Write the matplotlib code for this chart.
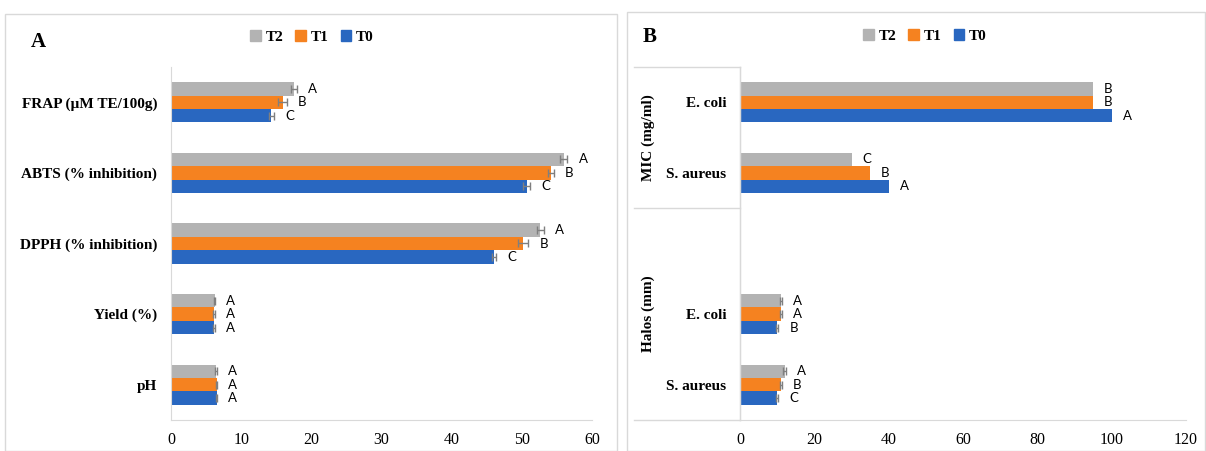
import numpy as np
import matplotlib.pyplot as plt
from matplotlib.patches import Rectangle, Patch
from matplotlib.lines import Line2D

# panel A data
cats_a = ['FRAP (µM TE/100g)', 'ABTS (% inhibition)', 'DPPH (% inhibition)', 'Yield (%)', 'pH']
t0_a = [14.3, 50.7, 46.0, 6.1, 6.5]
t1_a = [15.9, 54.2, 50.2, 6.1, 6.5]
t2_a = [17.5, 56.0, 52.6, 6.2, 6.4]
e0_a = [0.4, 0.5, 0.3, 0.1, 0.1]
e1_a = [0.6, 0.4, 0.7, 0.1, 0.1]
e2_a = [0.4, 0.5, 0.5, 0.1, 0.1]
l0_a = ['C', 'C', 'C', 'A', 'A']
l1_a = ['B', 'B', 'B', 'A', 'A']
l2_a = ['A', 'A', 'A', 'A', 'A']

# panel B data
cats_b = ['E. coli', 'S. aureus', 'E. coli', 'S. aureus']
groups_b = ['MIC (mg/ml)', 'Halos (mm)']
t0_b = [100, 40, 10, 10]
t1_b = [95, 35, 11, 11]
t2_b = [95, 30, 11, 12]
e0_b = [0, 0, 0.3, 0.3]
e1_b = [0, 0, 0.3, 0.3]
e2_b = [0, 0, 0.3, 0.3]
l0_b = ['A', 'A', 'B', 'C']
l1_b = ['B', 'B', 'A', 'B']
l2_b = ['B', 'C', 'A', 'A']

series = ['T2', 'T1', 'T0']
colors = {'T2': '#b3b3b3', 'T1': '#f58220', 'T0': '#2967c0'}

serif = 'Liberation Serif'
sans = 'Lato'

fig = plt.figure(figsize=(12.06, 4.51), dpi=100)

# panel frames
fig.patches.append(Rectangle((5/1206, 0), 612/1206, 1-14/451, transform=fig.transFigure,
                             fill=False, ec='#d9d9d9', lw=1))
fig.patches.append(Rectangle((627/1206, 0), 578/1206, 1-12/451, transform=fig.transFigure,
                             fill=False, ec='#d9d9d9', lw=1))

bh = 0.19


def draw(ax, pos, vals, errs, labs, xmax):
    for k, s in enumerate(series):
        y = np.array(pos) + (1 - k) * bh
        v = vals[s]
        e = np.array(errs[s])
        ax.barh(y, v, height=bh, color=colors[s], zorder=2)
        has = e > 0
        if has.any():
            ax.errorbar(np.array(v)[has], y[has], xerr=e[has], fmt='none',
                        ecolor='#7f7f7f', elinewidth=1, capsize=3, zorder=3)
        for yy, vv, ee, tt in zip(y, v, e, labs[s]):
            ax.annotate(tt, (vv + ee, yy), xytext=(8, 0), textcoords='offset points',
                        va='center', ha='left', fontsize=9.5, family=sans)
    ax.set_xlim(0, xmax)
    for sp in ['top', 'right']:
        ax.spines[sp].set_visible(False)
    for sp in ['left', 'bottom']:
        ax.spines[sp].set_color('#d9d9d9')
    ax.tick_params(length=0, labelsize=11.5)
    ax.tick_params(axis='x', pad=9)
    for t in ax.get_xticklabels():
        t.set_family(serif)


# panel A
ax1 = fig.add_axes([171/1206, 1-420/451, 421/1206, 353/451])
pos_a = [4, 3, 2, 1, 0]
draw(ax1, pos_a, {'T2': t2_a, 'T1': t1_a, 'T0': t0_a},
     {'T2': e2_a, 'T1': e1_a, 'T0': e0_a}, {'T2': l2_a, 'T1': l1_a, 'T0': l0_a}, 60)
ax1.set_ylim(-0.5, 4.5)
ax1.set_yticks(pos_a)
ax1.set_yticklabels(cats_a, family=serif, fontweight='bold', fontsize=11)
ax1.tick_params(axis='y', pad=10)
ax1.set_xticks(np.arange(0, 61, 10))

# panel B
ax2 = fig.add_axes([740/1206, 1-420/451, 446/1206, 353/451])
pos_b = [4, 3, 1, 0]
draw(ax2, pos_b, {'T2': t2_b, 'T1': t1_b, 'T0': t0_b},
     {'T2': e2_b, 'T1': e1_b, 'T0': e0_b}, {'T2': l2_b, 'T1': l1_b, 'T0': l0_b}, 120)
ax2.set_ylim(-0.5, 4.5)
ax2.set_yticks(pos_b)
ax2.set_yticklabels(cats_b, family=serif, fontweight='bold', fontsize=11)
ax2.tick_params(axis='y', pad=10)
ax2.set_xticks(np.arange(0, 121, 20))

# multi-level category box lines
tr = ax2.get_yaxis_transform()
x0 = -(740 - 634) / 446
for yy in [4.5, 2.5, -0.5]:
    ax2.add_line(Line2D([x0, 0], [yy, yy], transform=tr, color='#d9d9d9', lw=1, clip_on=False))
ax2.add_line(Line2D([0, 0], [4.5, -0.5], transform=tr, color='#d9d9d9', lw=1, clip_on=False))
xg = -(740 - 648) / 446
ax2.text(xg, 3.5, groups_b[0], transform=tr, rotation=90, ha='center', va='center',
         family=serif, fontweight='bold', fontsize=11)
ax2.text(xg, 1.0, groups_b[1], transform=tr, rotation=90, ha='center', va='center',
         family=serif, fontweight='bold', fontsize=11)

# legends and panel letters
handles = [Patch(color=colors[s], label=s) for s in series]
for cx, cy in [(312/1206, 1-37/451), (925/1206, 1-36/451)]:
    fig.legend(handles=handles, loc='center', bbox_to_anchor=(cx, cy), ncol=3, frameon=False,
               handlelength=0.7, handleheight=0.7, handletextpad=0.3, columnspacing=0.8,
               prop={'family': serif, 'weight': 'bold', 'size': 11})

fig.text(38/1206, 1-42/451, 'A', family=serif, fontweight='bold', fontsize=15,
         ha='center', va='center')
fig.text(650/1206, 1-37/451, 'B', family=serif, fontweight='bold', fontsize=15,
         ha='center', va='center')

fig.savefig('out.png', dpi=100)
